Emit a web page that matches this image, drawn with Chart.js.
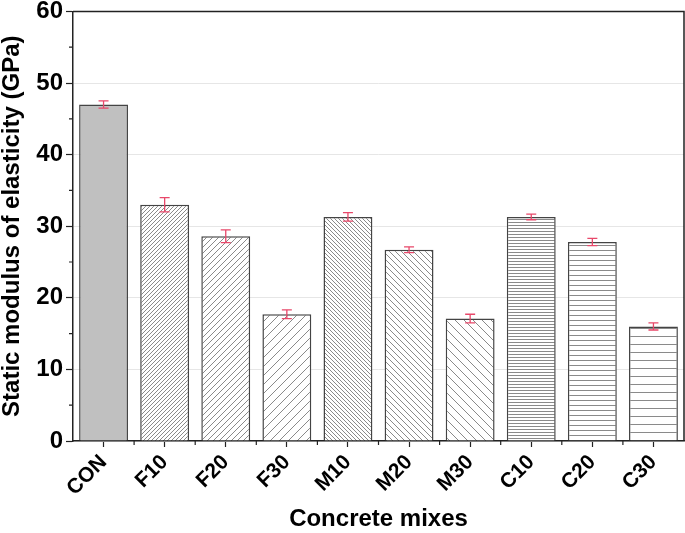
<!DOCTYPE html>
<html>
<head>
<meta charset="utf-8">
<script src="https://cdn.jsdelivr.net/npm/chart.js@4.4.0/dist/chart.umd.min.js"></script>
<style>
html,body{margin:0;padding:0;background:#fff;}
#wrap{width:685px;height:533px;position:relative;}
</style>
</head>
<body>
<div id="wrap"><canvas id="c" width="685" height="533"></canvas></div>
<script>
const categories = ['CON','F10','F20','F30','M10','M20','M30','C10','C20','C30'];
const modulus = [47.0, 33.0, 28.6, 17.7, 31.3, 26.7, 17.1, 31.3, 27.8, 16.0];
const errors = [0.5, 1.0, 0.9, 0.6, 0.6, 0.4, 0.6, 0.4, 0.5, 0.5];
const hatchTypes = ['solid','fwd','fwd','fwd','back','back','back','horiz','horiz','horiz'];
const hatchSpacing = [0, 4, 6, 9, 4, 6, 9, 3, 5, 8];
const yTicks = [0,10,20,30,40,50,60];

function makePattern(type, s){
  if(type==='solid') return '#c0c0c0';
  const c = document.createElement('canvas');
  c.width = s; c.height = s;
  const g = c.getContext('2d');
  g.fillStyle = '#fff'; g.fillRect(0,0,s,s);
  g.strokeStyle = '#8a8a8a'; g.lineWidth = 1;
  g.beginPath();
  if(type==='fwd'){
    g.moveTo(-1, s+1); g.lineTo(s+1, -1);
    g.moveTo(-1, 1); g.lineTo(1, -1);
    g.moveTo(s-1, s+1); g.lineTo(s+1, s-1);
  } else if(type==='back'){
    g.moveTo(-1, -1); g.lineTo(s+1, s+1);
    g.moveTo(s-1, -1); g.lineTo(s+1, 1);
    g.moveTo(-1, s-1); g.lineTo(1, s+1);
  } else {
    g.moveTo(0, 0.5); g.lineTo(s, 0.5);
  }
  g.stroke();
  return document.getElementById('c').getContext('2d').createPattern(c, 'repeat');
}
const fills = categories.map((_, i) => makePattern(hatchTypes[i], hatchSpacing[i]));

const FONT = "'Liberation Sans', Arial, sans-serif";

const extras = {
  id: 'extras',
  afterDatasetsDraw(chart){
    const ctx = chart.ctx;
    const xs = chart.scales.x, ys = chart.scales.y;
    const meta = chart.getDatasetMeta(0);
    ctx.save();
    ctx.strokeStyle = '#e8486a';
    ctx.lineWidth = 1.3;
    meta.data.forEach((bar, i) => {
      const x = bar.x;
      const t = ys.getPixelForValue(modulus[i] + errors[i]);
      const b = ys.getPixelForValue(modulus[i] - errors[i]);
      ctx.beginPath();
      ctx.moveTo(x, t); ctx.lineTo(x, b);
      ctx.moveTo(x-5, t); ctx.lineTo(x+5, t);
      ctx.moveTo(x-5, b); ctx.lineTo(x+5, b);
      ctx.stroke();
    });
    const a = chart.chartArea;
    ctx.strokeStyle = '#222';
    ctx.lineWidth = 1.5;
    ctx.beginPath();
    ctx.moveTo(a.left, a.top); ctx.lineTo(a.right, a.top); ctx.lineTo(a.right, a.bottom);
    ctx.stroke();
    ctx.lineWidth = 1.2;
    ctx.beginPath();
    for(let v = 5; v < 60; v += 10){
      const y = ys.getPixelForValue(v);
      ctx.moveTo(a.left, y); ctx.lineTo(a.left - 4, y);
    }
    for(let i = 0; i <= categories.length; i++){
      const x = xs.getPixelForValue(i - 0.5);
      if (x > a.left + 1 && x < a.right - 1){
        ctx.moveTo(x, a.bottom); ctx.lineTo(x, a.bottom + 4);
      }
    }
    ctx.stroke();
    ctx.restore();
  }
};

new Chart(document.getElementById('c'), {
  type: 'bar',
  data: {
    labels: categories,
    datasets: [{
      data: modulus,
      backgroundColor: fills,
      borderColor: '#444',
      borderWidth: 1.5,
      barPercentage: 0.8,
      categoryPercentage: 1.0
    }]
  },
  options: {
    responsive: false,
    animation: false,
    devicePixelRatio: 1,
    layout: { padding: { left: 0, right: 1, top: 0, bottom: 0 } },
    plugins: { legend: { display: false }, tooltip: { enabled: false } },
    scales: {
      x: {
        grid: { display: true, drawOnChartArea: false, offset: false, tickLength: 6, tickColor: '#222', tickWidth: 1.2 },
        border: { display: true, color: '#222', width: 1.5 },
        ticks: { maxRotation: 45, minRotation: 45, padding: 3, color: '#000',
                 font: { family: FONT, size: 21, weight: 'bold' } },
        title: { display: true, text: 'Concrete mixes', color: '#000', padding: { top: 0, bottom: 0 },
                 font: { family: FONT, size: 24, weight: 'bold', lineHeight: 1.1 } },
        afterFit(s){ s.height = 92; }
      },
      y: {
        min: 0, max: 60,
        afterBuildTicks(s){ s.ticks = yTicks.map(v => ({ value: v })); },
        grid: { color: '#e6e6e6', lineWidth: 1, tickLength: 7, tickColor: '#222', tickWidth: 1.2 },
        border: { display: true, color: '#222', width: 1.5 },
        ticks: { padding: 3, color: '#000', font: { family: FONT, size: 24, weight: 'bold', lineHeight: 0.7 } },
        title: { display: true, text: 'Static modulus of elasticity (GPa)', color: '#000', padding: { top: 0, bottom: 0 },
                 font: { family: FONT, size: 24, weight: 'bold', lineHeight: 1.0 } },
        afterFit(s){ s.width = 73; }
      }
    }
  },
  plugins: [extras]
});
</script>
</body>
</html>
